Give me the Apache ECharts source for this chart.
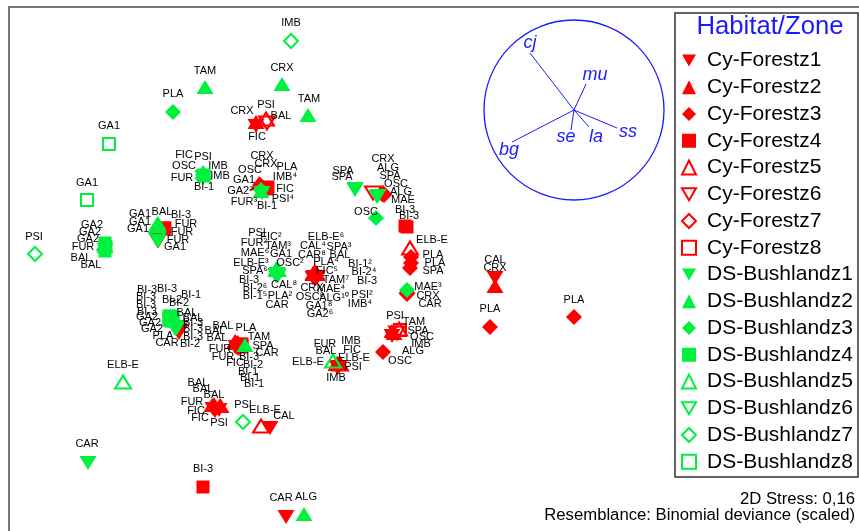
<!DOCTYPE html>
<html><head><meta charset="utf-8">
<script src="https://cdn.jsdelivr.net/npm/echarts@6/dist/echarts.min.js"></script>
<style>html,body{margin:0;padding:0;background:#fff}#c{width:859px;height:531px}</style>
</head><body><div id="c"></div>
<script>
// ---- Data (NMDS ordination; axis units span the plotting area) ----
const groupNames = ['Cy-Forestz1','Cy-Forestz2','Cy-Forestz3','Cy-Forestz4','Cy-Forestz5','Cy-Forestz6','Cy-Forestz7','Cy-Forestz8',
  'DS-Bushlandz1','DS-Bushlandz2','DS-Bushlandz3','DS-Bushlandz4','DS-Bushlandz5','DS-Bushlandz6','DS-Bushlandz7','DS-Bushlandz8'];

const cyForestz1 = [[256,126,'CRX'],[264,190,'BI-1'],[392,336,'SPA'],[178,331,'BI-3'],[179,333,'BI-2'],
  [236,347,'BAL'],[237,348,'BAL'],[238,349,'FUR'],[240,349,'BI-1'],
  [213,409,'BAL'],[219,410,'BAL'],[215,411,'FIC'],
  [270,428,'CAL'],[286,517,'CAR'],[495,278,'CAL'],
  [337,367,'FUR'],[338,368,'BAL'],[339,367,'PSI'],
  [315,278,'ELB-E⁶'],[316,277,'SPA³'],[314,278,'BAL'],[317,277,'BI-1²'],[316,278,'BI-2⁴'],[317,278,'BI-3'],
  [314,277,'MAE⁴'],[316,279,'PSI²'],[315,279,'GA1⁸'],[313,278,'GA2⁶']];
const cyForestz2 = [[256,122,'FIC'],[259,183,'OSC'],[392,331,'OSC'],[394,333,'ALG'],
  [235,341,'BAL'],[236,342,'FUR'],[237,343,'FIC'],[238,342,'BI-1'],
  [214,404,'BAL'],[212,405,'FUR'],[220,405,'FIC'],[221,406,'PSI'],
  [495,286,'CRX'],
  [337,363,'IMB'],[338,363,'FIC'],[336,364,'IMB'],
  [314,272,'CAL⁴'],[313,273,'CAR⁸'],[315,271,'PLA⁴'],[316,272,'FIC⁵'],[317,273,'TAM⁷'],[313,274,'CRX'],
  [314,274,'OSC⁸'],[316,273,'ALG¹⁰'],[317,274,'IMB⁴']];
const cyForestz3 = [[260,185,'CRX'],[261,186,'FIC'],[382,194,'ALG'],[383,193,'OSC'],[384,195,'MAE'],
  [411,257,'PLA'],[411,263,'PLA'],[410,268,'SPA'],[407,294,'CRX'],[383,352,'OSC'],[490,327,'PLA'],[574,317,'PLA']];
const cyForestz4 = [[267,188,'CRX'],[268,187,'PLA'],[267,189,'IMB⁴'],[266,188,'PSI⁴'],
  [405,226,'BI-3'],[407,227,'BI-3'],[164,228,'BAL'],[165,228,'BI-3'],[164,229,'FUR'],
  [241,345,'TAM'],[242,346,'SPA'],[241,347,'CAR'],[240,344,'BI-3'],[242,344,'BI-2'],[240,346,'BI-1'],
  [203,487,'BI-3']];
const cyForestz5 = [[266,119,'PSI'],[410,248,'ELB-E'],[399,329,'PSI'],[261,426,'ELB-E'],[340,364,'ELB-E']];
const cyForestz6 = [[267,123,'BAL'],[373,193,'CRX'],[397,333,'IMB'],[158,240,'FUR'],[178,330,'BI-3']];
const cyForestz7 = [[407,293,'CAR']];
const cyForestz8 = [[400,330,'TAM']];
const dsBushlandz1 = [[262,193,'GA2²'],[203,178,'FIC'],[203,177,'BI-1'],[355,189,'SPA'],[355,190,'SPA'],
  [377,197,'SPA'],[378,196,'ALG'],[158,241,'FUR'],[105,250,'FUR'],
  [176,328,'BI-3'],[176,327,'BAL'],[175,329,'BAL'],[177,328,'BI-3'],[175,328,'PLA'],[176,329,'CAR'],
  [88,463,'CAR'],
  [277,275,'PSI'],[276,275,'FUR²'],[277,276,'MAE⁶'],[276,276,'ELB-E³'],[277,274,'SPA⁶'],[278,275,'CAL⁸'],
  [277,276,'BI-1⁵'],[278,276,'CAR']];
const dsBushlandz2 = [[261,191,'FUR³'],[203,172,'PSI'],[204,173,'IMB'],
  [158,223,'GA1'],[157,224,'GA1'],[158,225,'GA1'],[104,244,'GA2'],[105,246,'BAL'],
  [245,345,'PLA'],[205,87,'TAM'],[282,84,'CRX'],[308,115,'TAM'],[304,514,'ALG'],
  [277,269,'FIC²'],[278,269,'TAM³'],[277,270,'GA1'],[278,270,'OSC²'],[276,269,'BI-3'],[276,270,'BI-2⁶'],[277,268,'PLA²']];
const dsBushlandz3 = [[261,190,'GA1'],[203,175,'OSC'],[376,218,'OSC'],[407,290,'MAE³'],[173,112,'PLA']];
const dsBushlandz4 = [[203,175,'IMB'],[204,176,'FUR'],[105,243,'GA2'],[106,247,'GA2'],[105,251,'BAL'],
  [169,316,'BI-3'],[171,316,'BI-3'],[173,317,'BI-1'],[169,318,'BI-3'],[171,318,'BI-2'],[173,319,'BI-2'],
  [169,320,'BI-3'],[170,320,'GA2'],[171,321,'GA2'],[172,321,'GA2']];
const dsBushlandz5 = [[333,361,'ELB-E'],[123,382,'ELB-E']];
const dsBushlandz6 = [[157,239,'GA1']];
const dsBushlandz7 = [[291,41,'IMB'],[35,254,'PSI'],[243,422,'PSI']];
const dsBushlandz8 = [[109,144,'GA1'],[87,200,'GA1']];

// label anchor points (same units), one per sample, in the order above
const cyForestz1Labels = [[242,111],[267,206],[418,331],[193,329],[190,344],
  [223,326],[217,338],[223,357],[248,372],[198,383],[214,395],[196,411],
  [284,416],[281,498],[495,260],[325,344],[326,351],[353,367],
  [326,237],[339,247],[340,255],[360,264],[364,272],[367,281],[331,289],[362,295],[319,306],[320,314]];
const cyForestz2Labels = [[257,137],[250,170],[422,337],[413,351],
  [215,331],[220,349],[235,363],[250,378],[203,389],[192,402],[200,418],[219,423],
  [495,268],[351,341],[352,350],[336,378],
  [313,246],[312,255],[326,262],[327,271],[336,280],[312,288],[310,297],[334,298],[360,304]];
const cyForestz3Labels = [[262,156],[285,189],[388,168],[396,184],[403,200],
  [433,255],[435,263],[433,271],[428,296],[400,361],[490,309],[574,300]];
const cyForestz4Labels = [[266,164],[287,167],[285,177],[283,199],[405,210],[409,216],
  [162,212],[181,215],[186,224],[259,337],[263,346],[267,353],[249,357],[253,365],[254,384],[203,469]];
const cyForestz5Labels = [[266,105],[432,240],[395,316],[265,410],[354,358]];
const cyForestz6Labels = [[281,116],[383,159],[421,344],[182,232],[193,337]];
const cyForestz7Labels = [[430,304]];
const cyForestz8Labels = [[414,322]];
const dsBushlandz1Labels = [[240,191],[184,155],[204,187],[343,171],[342,177],[390,176],[401,192],
  [178,240],[83,247],[147,312],[187,313],[193,318],[193,323],[163,336],[167,343],[87,444],
  [257,233],[254,243],[255,253],[251,263],[255,271],[284,285],[255,296],[277,305]];
const dsBushlandz2Labels = [[244,202],[203,157],[220,176],[140,214],[140,222],[138,229],[88,239],[91,265],
  [246,328],[205,71],[282,68],[309,99],[306,497],
  [271,237],[278,246],[281,254],[290,263],[249,280],[255,288],[280,296]];
const dsBushlandz3Labels = [[244,180],[184,166],[366,212],[428,287],[173,94]];
const dsBushlandz4Labels = [[218,166],[182,178],[92,225],[90,232],[81,258],
  [147,290],[167,289],[191,295],[146,297],[172,300],[179,303],[146,305],[147,317],[150,323],[152,329]];
const dsBushlandz5Labels = [[308,362],[123,365]];
const dsBushlandz6Labels = [[175,247]];
const dsBushlandz7Labels = [[291,23],[34,237],[243,405]];
const dsBushlandz8Labels = [[109,126],[87,183]];

// vector overlay (species correlations)
const vectorNames = ['cj','mu','bg','se','la','ss'];
const vectorOrigin = [574,110];
const vectorEnds = [[530,53],[586,84],[512,142],[571,130],[589,127],[617,128]];
const vectorLabelPos = [[530,43],[595,75],[509,150],[566,137],[596,137],[628,132]];
const circleCenter = [574,110];

const stressText = ['2D Stress: 0,16','Resemblance: Binomial deviance (scaled)'];

// ---- Styling ----
const X_MIN = 0, X_MAX = 859, Y_MIN = 0, Y_MAX = 531, W = 859, H = 531;
const RED = '#ff0000', GREEN = '#00f040', BLUE = '#1a1aff';
const FONT = '"Liberation Sans", Arial, sans-serif';
const DOWN = 'path://M0,0L20,0L10,17Z';
const groupPoints = [cyForestz1,cyForestz2,cyForestz3,cyForestz4,cyForestz5,cyForestz6,cyForestz7,cyForestz8,
  dsBushlandz1,dsBushlandz2,dsBushlandz3,dsBushlandz4,dsBushlandz5,dsBushlandz6,dsBushlandz7,dsBushlandz8];
const groupLabels = [cyForestz1Labels,cyForestz2Labels,cyForestz3Labels,cyForestz4Labels,cyForestz5Labels,cyForestz6Labels,cyForestz7Labels,cyForestz8Labels,
  dsBushlandz1Labels,dsBushlandz2Labels,dsBushlandz3Labels,dsBushlandz4Labels,dsBushlandz5Labels,dsBushlandz6Labels,dsBushlandz7Labels,dsBushlandz8Labels];
const shapes = [DOWN,'triangle','diamond','rect','triangle',DOWN,'diamond','rect'];
const filledSizes = [[17,14],[17,14],[16,16],[13,13]];
const openSizes = [[16,13],[16,13],[14,14],[12,12]];

const sx = W / (X_MAX - X_MIN), sy = H / (Y_MAX - Y_MIN);

const series = groupNames.map((name, i) => {
  const k = i % 8, hollow = k >= 4, col = i < 8 ? RED : GREEN;
  return {
    type: 'scatter', name, symbol: shapes[k],
    symbolSize: hollow ? openSizes[k - 4] : filledSizes[k],
    itemStyle: hollow ? {color: 'rgba(255,255,255,0)', borderColor: col, borderWidth: 2, opacity: 1} : {color: col, opacity: 1},
    data: groupPoints[i].map((p, j) => ({
      name: p[2], value: [p[0], p[1]],
      label: {offset: [(groupLabels[i][j][0] - p[0]) * sx, (groupLabels[i][j][1] - p[1]) * sy]}
    })),
    label: {show: true, position: 'inside', formatter: '{b}', color: '#000', fontSize: 11, opacity: 1,
      fontFamily: FONT, textBorderWidth: 0, align: 'center', verticalAlign: 'middle'},
    emphasis: {disabled: true}, silent: true
  };
});

series.push({
  type: 'scatter', name: 'circle', data: [circleCenter], symbol: 'circle', symbolSize: 180,
  itemStyle: {color: 'rgba(255,255,255,0)', borderColor: BLUE, borderWidth: 1.3, opacity: 1}, silent: true, z: 1
});
series.push({
  type: 'lines', coordinateSystem: 'cartesian2d', silent: true,
  data: vectorEnds.map(e => ({coords: [vectorOrigin, e]})),
  lineStyle: {color: BLUE, width: 1, opacity: 1}, symbol: 'none'
});
series.push({
  type: 'scatter', name: 'vectors', silent: true, symbolSize: 0, itemStyle: {opacity: 1},
  data: vectorLabelPos.map((p, i) => ({name: vectorNames[i], value: p})),
  label: {show: true, position: 'inside', formatter: '{b}', color: BLUE, fontSize: 18, fontStyle: 'italic', fontFamily: FONT, opacity: 1}
});

const chart = echarts.init(document.getElementById('c'), null, {renderer: 'canvas'});
chart.setOption({
  animation: false,
  backgroundColor: '#fff',
  grid: {left: 0, right: 0, top: 0, bottom: 0},
  xAxis: {type: 'value', min: X_MIN, max: X_MAX, show: false},
  yAxis: {type: 'value', min: Y_MIN, max: Y_MAX, inverse: true, show: false},
  title: {text: 'Habitat/Zone', left: 770, top: 27, textAlign: 'center', textVerticalAlign: 'middle', padding: 0,
    textStyle: {fontSize: 25.7, fontWeight: 'normal', color: BLUE, fontFamily: FONT}},
  legend: {
    data: groupNames, orient: 'vertical', left: 681, top: 50, padding: 0,
    itemWidth: 14, itemHeight: 14, itemGap: 5.75, selectedMode: false,
    textStyle: {fontSize: 21, lineHeight: 21, color: '#000', fontFamily: FONT, padding: [0, 0, 0, 6]}
  },
  graphic: [
    {type: 'rect', shape: {x: 9, y: 7, width: 900, height: 600}, style: {fill: 'none', stroke: '#777', lineWidth: 2}, z: -1, silent: true},
    {type: 'rect', shape: {x: 675, y: 13, width: 183, height: 464}, style: {fill: '#fff', stroke: '#333', lineWidth: 1.5}, z: -1, silent: true},
    {type: 'text', style: {text: stressText[0], x: 855, y: 499, align: 'right', verticalAlign: 'middle', font: '16.7px ' + FONT, fill: '#000'}},
    {type: 'text', style: {text: stressText[1], x: 855, y: 515, align: 'right', verticalAlign: 'middle', font: '16.7px ' + FONT, fill: '#000'}}
  ],
  series
});
</script></body></html>
